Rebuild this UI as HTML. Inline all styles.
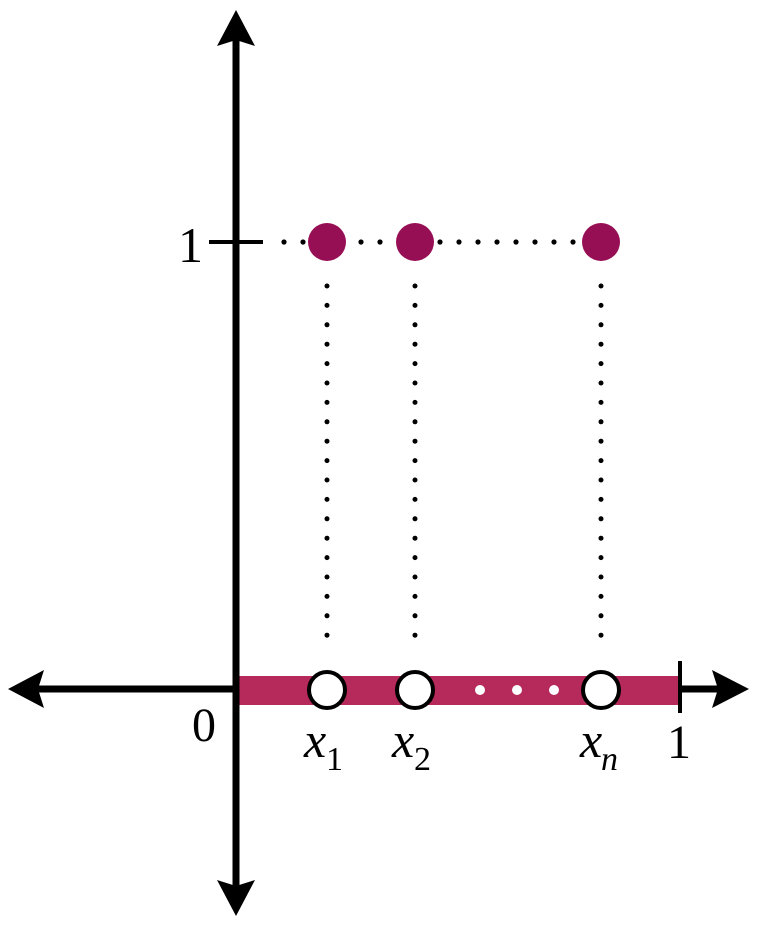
<!DOCTYPE html>
<html><head><meta charset="utf-8"><style>
html,body{margin:0;padding:0;background:#fff;}
svg{display:block;}
text{font-family:"Liberation Serif","Times New Roman","DejaVu Serif",serif;fill:#000;}
</style></head><body>
<svg width="768" height="926" viewBox="0 0 768 926">
<rect x="239" y="676" width="441" height="29" fill="#b52a5a"/>
<line x1="236" y1="36" x2="236" y2="890" stroke="#000" stroke-width="7"/>
<line x1="34" y1="689" x2="239" y2="689" stroke="#000" stroke-width="7"/>
<line x1="680" y1="689" x2="722" y2="689" stroke="#000" stroke-width="7"/>
<polygon points="236,10 255,46 236,40 217,46" fill="#000"/>
<polygon points="236,916 255,880 236,886 217,880" fill="#000"/>
<polygon points="8,689 44,670 38,689 44,708" fill="#000"/>
<polygon points="749,689 712,670 718,689 712,708" fill="#000"/>
<line x1="209" y1="242" x2="263" y2="242" stroke="#000" stroke-width="4"/>
<line x1="680" y1="661" x2="680" y2="713" stroke="#000" stroke-width="4"/>
<g fill="#000">
<circle cx="284" cy="242" r="2.6"/><circle cx="303" cy="242" r="2.6"/>
<circle cx="361" cy="242" r="2.6"/><circle cx="380" cy="242" r="2.6"/>
<circle cx="440" cy="242" r="2.6"/><circle cx="459" cy="242" r="2.6"/><circle cx="478" cy="242" r="2.6"/><circle cx="497" cy="242" r="2.6"/><circle cx="516" cy="242" r="2.6"/><circle cx="535" cy="242" r="2.6"/><circle cx="554" cy="242" r="2.6"/><circle cx="573" cy="242" r="2.6"/>
</g>
<g stroke="#000" stroke-width="5" stroke-linecap="round" stroke-dasharray="0 19.4">
<line x1="327" y1="286" x2="327" y2="636"/>
<line x1="415" y1="286" x2="415" y2="636"/>
<line x1="601" y1="286" x2="601" y2="636"/>
</g>
<g fill="#960f55">
<circle cx="327" cy="242" r="19"/><circle cx="415" cy="242" r="19"/><circle cx="601" cy="242" r="19"/>
</g>
<g fill="#fff" stroke="#000" stroke-width="4">
<circle cx="327" cy="690" r="18"/><circle cx="415" cy="690" r="18"/><circle cx="601" cy="690" r="18"/>
</g>
<g fill="#fff"><circle cx="480" cy="690" r="5"/><circle cx="517" cy="690" r="5"/><circle cx="554" cy="690" r="5"/></g>
<text x="178" y="262" font-size="50">1</text>
<text x="192" y="741" font-size="48">0</text>
<text x="667" y="758" font-size="48">1</text>
<text x="304" y="757" font-size="50" font-style="italic">x</text><text x="326" y="770" font-size="34">1</text>
<text x="392" y="757" font-size="50" font-style="italic">x</text><text x="414" y="770" font-size="34">2</text>
<text x="580" y="757" font-size="50" font-style="italic">x</text><text x="601" y="770" font-size="34" font-style="italic">n</text>
</svg>
</body></html>
